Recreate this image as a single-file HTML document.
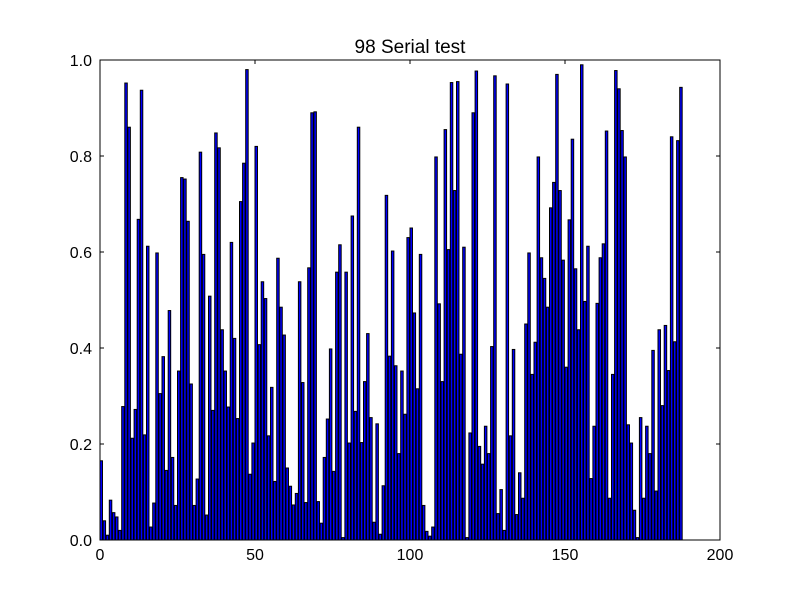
<!DOCTYPE html>
<html><head><meta charset="utf-8"><style>
body{margin:0;background:#fff;width:800px;height:600px;overflow:hidden}
text{font-family:"Liberation Sans",sans-serif}
</style></head><body>
<svg id="chart" width="800" height="600" xmlns="http://www.w3.org/2000/svg">
<rect width="800" height="600" fill="#fff"/>
<text x="410" y="53" text-anchor="middle" font-size="19">98 Serial test</text>
<g id="bars"></g>
<g id="axes"></g>
</svg>
<script>
const values=[0.165,0.04,0.01,0.083,0.057,0.048,0.02,0.278,0.952,0.86,0.212,0.272,0.668,0.937,0.219,0.612,0.027,0.077,0.598,0.305,0.382,0.145,0.478,0.172,0.072,0.352,0.755,0.752,0.664,0.325,0.072,0.127,0.808,0.595,0.052,0.508,0.27,0.848,0.817,0.438,0.352,0.277,0.62,0.42,0.253,0.705,0.785,0.98,0.137,0.202,0.82,0.407,0.538,0.503,0.217,0.318,0.122,0.587,0.485,0.427,0.15,0.112,0.073,0.097,0.538,0.328,0.078,0.567,0.89,0.892,0.08,0.035,0.172,0.252,0.398,0.143,0.558,0.615,0.005,0.558,0.202,0.675,0.268,0.86,0.203,0.33,0.43,0.255,0.037,0.242,0.012,0.113,0.718,0.383,0.602,0.363,0.18,0.352,0.262,0.63,0.65,0.473,0.315,0.595,0.072,0.018,0.008,0.027,0.798,0.492,0.33,0.855,0.605,0.953,0.728,0.955,0.387,0.61,0.005,0.223,0.89,0.977,0.195,0.158,0.237,0.18,0.403,0.967,0.055,0.105,0.02,0.95,0.217,0.397,0.053,0.14,0.087,0.45,0.598,0.345,0.412,0.798,0.588,0.545,0.485,0.692,0.745,0.97,0.728,0.583,0.36,0.667,0.835,0.565,0.438,0.99,0.497,0.612,0.128,0.237,0.493,0.588,0.617,0.852,0.087,0.345,0.978,0.94,0.853,0.798,0.24,0.202,0.062,0.005,0.255,0.087,0.237,0.18,0.395,0.102,0.438,0.28,0.447,0.353,0.84,0.413,0.832,0.943];
const xTicks=[0,50,100,150,200];
const yTicks=[0.0,0.2,0.4,0.6,0.8,1.0];
const NS="http://www.w3.org/2000/svg";
const L=100,R=720,T=60,B=540;
const xs=v=>L+(v/200)*(R-L);
const ys=v=>B-(v/1)*(B-T);
const bars=document.getElementById('bars');
values.forEach((v,i)=>{
  const r=document.createElementNS(NS,'rect');
  const x0=xs(i),x1=xs(i+0.8);
  r.setAttribute('x',x0);r.setAttribute('y',ys(v));
  r.setAttribute('width',x1-x0);r.setAttribute('height',B-ys(v));
  r.setAttribute('fill','#0000ff');r.setAttribute('stroke','#000');r.setAttribute('stroke-width','1');
  
  
  bars.appendChild(r);
});
const ax=document.getElementById('axes');
const frame=document.createElementNS(NS,'rect');
frame.setAttribute('x',L);frame.setAttribute('y',T);frame.setAttribute('width',R-L);frame.setAttribute('height',B-T);
frame.setAttribute('fill','none');frame.setAttribute('stroke','#000');frame.setAttribute('stroke-width','1');


ax.appendChild(frame);
function line(x1,y1,x2,y2){const l=document.createElementNS(NS,'line');l.setAttribute('x1',x1);l.setAttribute('y1',y1);l.setAttribute('x2',x2);l.setAttribute('y2',y2);l.setAttribute('stroke','#000');

ax.appendChild(l);}
xTicks.forEach(t=>{
  const x=xs(t);line(x,B,x,B-4);line(x,T,x,T+4);
  const tx=document.createElementNS(NS,'text');
  tx.setAttribute('x',x);tx.setAttribute('y',B+20);tx.setAttribute('text-anchor','middle');tx.setAttribute('font-size','16');
  tx.textContent=t;
  
  
  ax.appendChild(tx);
});
yTicks.forEach(t=>{
  const y=ys(t);line(L,y,L+4,y);line(R,y,R-4,y);
  const tx=document.createElementNS(NS,'text');
  tx.setAttribute('x',L-8);tx.setAttribute('y',y+6);tx.setAttribute('text-anchor','end');tx.setAttribute('font-size','16');
  tx.textContent=t.toFixed(1);
  
  
  ax.appendChild(tx);
});
</script>
</body></html>
